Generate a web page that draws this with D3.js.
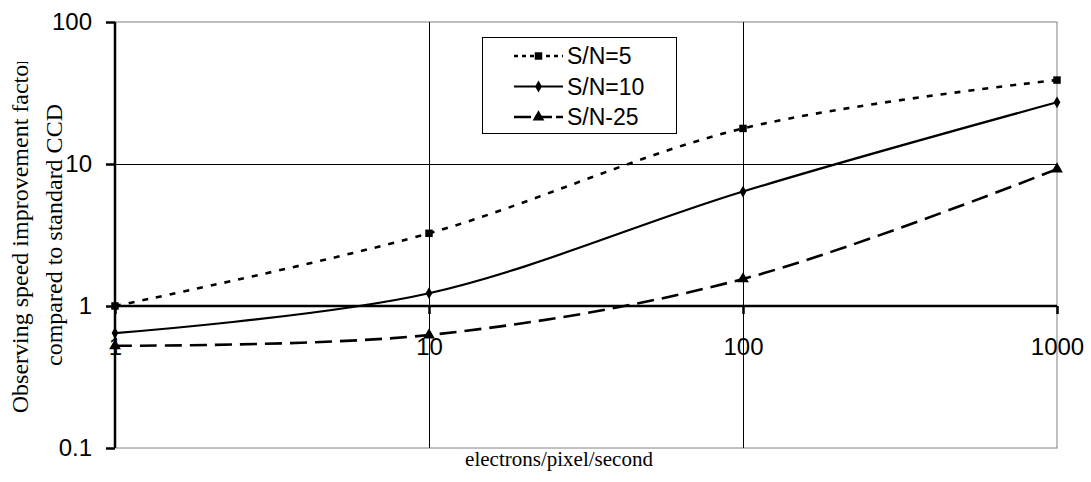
<!DOCTYPE html>
<html>
<head>
<meta charset="utf-8">
<script src="https://cdn.jsdelivr.net/npm/d3@7"></script>
<style>
  body { margin: 0; background: #fff; }
  .tick text { font-family: "Liberation Sans", Arial, sans-serif; font-size: 24px; fill: #000; }
  .domain { display: none; }
</style>
</head>
<body>
<script>
const width = 1091, height = 482;
const plotLeft = 115, plotRight = 1057, plotTop = 22, plotBottom = 448;

// data
const rates = [1, 10, 100, 1000];
const sn5  = [1.0, 3.25, 17.8, 39];
const sn10 = [0.645, 1.23, 6.4, 27.2];
const sn25 = [0.525, 0.625, 1.55, 9.2];
const seriesNames = ['S/N=5', 'S/N=10', 'S/N-25'];
const xTicks = [1, 10, 100, 1000];
const yTicks = [0.1, 1, 10, 100];

const svg = d3.select('body').append('svg')
    .attr('width', width)
    .attr('height', height);

const x = d3.scaleLog().domain([1, 1000]).range([plotLeft, plotRight]);
const y = d3.scaleLog().domain([0.1, 100]).range([plotBottom, plotTop]);

// plot border + grid
svg.append('rect')
    .attr('x', plotLeft).attr('y', plotTop)
    .attr('width', plotRight - plotLeft).attr('height', plotBottom - plotTop)
    .attr('fill', 'none').attr('stroke', '#808080').attr('stroke-width', 1);

svg.selectAll('line.vgrid')
    .data([10, 100])
    .enter().append('line')
    .attr('x1', d => Math.round(x(d)) + 0.5).attr('x2', d => Math.round(x(d)) + 0.5)
    .attr('y1', plotTop).attr('y2', plotBottom)
    .attr('stroke', '#000').attr('stroke-width', 1);

svg.selectAll('line.hgrid')
    .data([10])
    .enter().append('line')
    .attr('x1', plotLeft).attr('x2', plotRight)
    .attr('y1', d => Math.round(y(d)) + 0.5).attr('y2', d => Math.round(y(d)) + 0.5)
    .attr('stroke', '#000').attr('stroke-width', 1);

// y axis
const yAxis = d3.axisLeft(y).tickValues(yTicks).tickFormat(d3.format('')).tickSize(9).tickPadding(14);
const gy = svg.append('g').attr('transform', 'translate(' + plotLeft + ',0)').call(yAxis);
gy.selectAll('.tick line').attr('stroke', '#000').attr('stroke-width', 2.5);
gy.append('line').attr('x1', 0).attr('x2', 0).attr('y1', plotTop).attr('y2', plotBottom)
    .attr('stroke', '#000').attr('stroke-width', 2.5);

// x axis crosses at y = 1
const xAxis = d3.axisBottom(x).tickValues(xTicks).tickFormat(d3.format('')).tickSize(8).tickPadding(24);
const gx = svg.append('g').attr('transform', 'translate(0,' + y(1) + ')').call(xAxis);
gx.selectAll('.tick line').attr('stroke', '#000').attr('stroke-width', 2.5);
gx.append('line').attr('x1', plotLeft).attr('x2', plotRight).attr('y1', 0).attr('y2', 0)
    .attr('stroke', '#000').attr('stroke-width', 2.5);

// series
const series = [
  { name: seriesNames[0], values: sn5,  dash: '6,8',  legendDash: '4,4', width: 2.6, marker: 'square' },
  { name: seriesNames[1], values: sn10, dash: null,   legendDash: null,  width: 2.2, marker: 'diamond' },
  { name: seriesNames[2], values: sn25, dash: '17,8', legendDash: '17,4', width: 2.6, marker: 'triangle' }
];

const line = d3.line()
    .x(d => x(d[0]))
    .y(d => y(d[1]))
    .curve(d3.curveCardinal.tension(0));

const symbols = {
  square: d3.symbol().type(d3.symbolSquare).size(56),
  diamond: d3.symbol().type(d3.symbolDiamond).size(40),
  triangle: d3.symbol().type(d3.symbolTriangle).size(60)
};

series.forEach(s => {
  const pts = rates.map((r, i) => [r, s.values[i]]);
  svg.append('path')
      .attr('d', line(pts))
      .attr('fill', 'none')
      .attr('stroke', '#000')
      .attr('stroke-width', s.width)
      .attr('stroke-dasharray', s.dash);
  svg.selectAll(null)
      .data(pts)
      .enter().append('path')
      .attr('d', symbols[s.marker])
      .attr('transform', d => 'translate(' + x(d[0]) + ',' + y(d[1]) + ')')
      .attr('fill', '#000');
});

// legend
const legend = svg.append('g');
legend.append('rect')
    .attr('x', 482.5).attr('y', 37.5).attr('width', 194).attr('height', 96)
    .attr('fill', '#fff').attr('stroke', '#000').attr('stroke-width', 1);

series.forEach((s, i) => {
  const cy = 56 + i * 30.5;
  legend.append('line')
      .attr('x1', 514).attr('x2', 563).attr('y1', cy).attr('y2', cy)
      .attr('stroke', '#000').attr('stroke-width', s.width)
      .attr('stroke-dasharray', s.legendDash);
  legend.append('path')
      .attr('d', symbols[s.marker])
      .attr('transform', 'translate(538.5,' + cy + ')')
      .attr('fill', '#000');
  legend.append('text')
      .attr('x', 567).attr('y', cy)
      .attr('dy', '0.36em')
      .style('font-family', '"Liberation Sans", Arial, sans-serif')
      .style('font-size', '23px')
      .text(s.name);
});

// axis titles
svg.append('text')
    .attr('x', 559).attr('y', 466)
    .attr('text-anchor', 'middle')
    .style('font-family', '"Liberation Serif", "Times New Roman", serif')
    .style('font-size', '21px')
    .text('electrons/pixel/second');

svg.append('clipPath').attr('id', 'ytitle-clip')
    .append('rect').attr('x', 0).attr('y', 62).attr('width', 110).attr('height', 420);

const yt = svg.append('g').attr('clip-path', 'url(#ytitle-clip)')
    .append('text')
    .attr('transform', 'translate(0,235) rotate(-90)')
    .attr('text-anchor', 'middle')
    .style('font-family', '"Liberation Serif", "Times New Roman", serif')
    .style('font-size', '24px');
yt.append('tspan').attr('x', 0).attr('y', 28).text('Observing speed improvement factor');
yt.append('tspan').attr('x', 0).attr('y', 62).text('compared to standard CCD');
</script>
</body>
</html>
